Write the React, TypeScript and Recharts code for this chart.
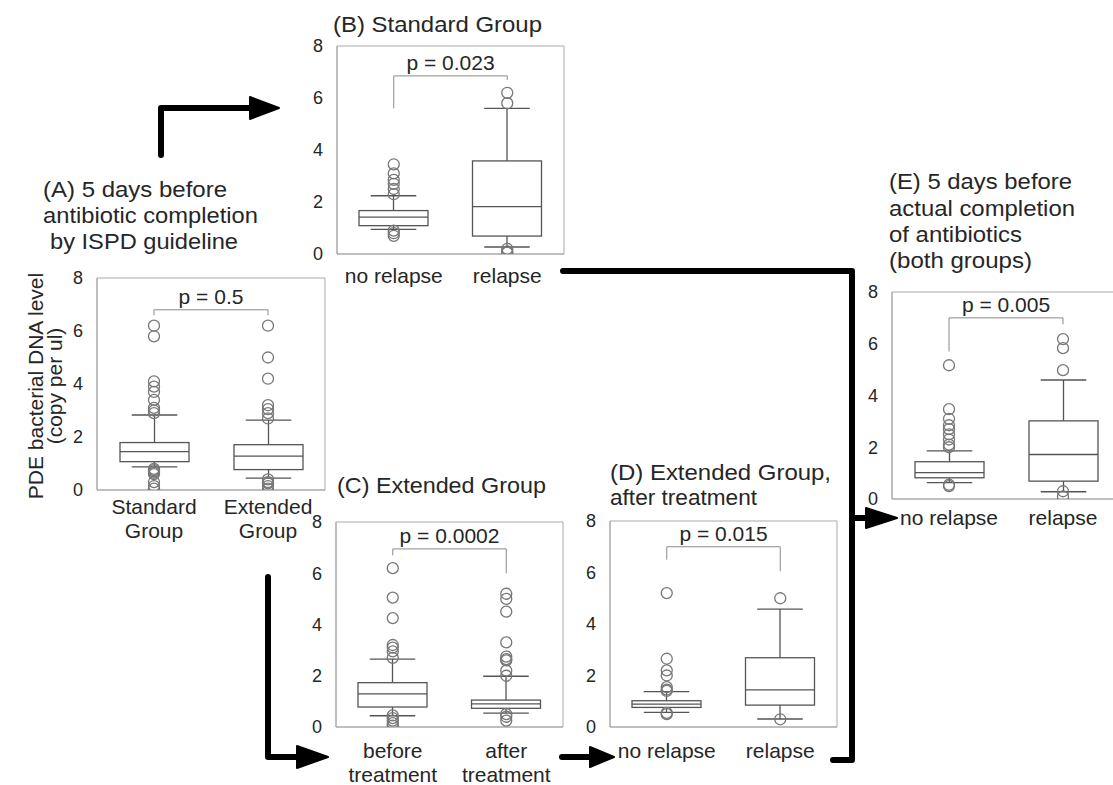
import { Bar, ComposedChart, ReferenceArea, ReferenceLine, Scatter, XAxis, YAxis } from "recharts";

const FONT = "'Liberation Sans', Arial, sans-serif";
const FRAME = "#a9a9a9";
const BOX = "#555555";
const DOT = "#777777";
const BRACKET = "#8a8a8a";
const TEXT = "#262626";

const Y_TICKS = [0, 2, 4, 6, 8];

// (A) 5 days before antibiotic completion by ISPD guideline
const catsA = ["Standard\nGroup", "Extended\nGroup"];
const lowA = [0.87, 0.45];
const q1A = [1.07, 0.77];
const medA = [1.45, 1.28];
const q3A = [1.79, 1.71];
const highA = [2.83, 2.64];
const outA = [
  [6.2, 5.8, 4.1, 3.9, 3.7, 3.4, 3.1, 3.0, 2.9, 0.8, 0.75, 0.7, 0.65, 0.6, 0.3, 0.15, 0.05],
  [6.2, 5.0, 4.2, 3.2, 3.05, 2.9, 2.7, 0.4, 0.3, 0.25, 0.15, 0.05],
];
const bracketA = [6.8, 6.6, 6.6];
const pA = "p = 0.5";

// (B) Standard Group
const catsB = ["no relapse", "relapse"];
const lowB = [0.95, 0.27];
const q1B = [1.09, 0.69];
const medB = [1.42, 1.82];
const q3B = [1.67, 3.58];
const highB = [2.24, 5.6];
const outB = [
  [3.45, 3.1, 2.85, 2.7, 2.5, 2.3, 0.9, 0.8, 0.7],
  [6.2, 5.8, 0.2, 0.1, 0.05],
];
const bracketB = [6.85, 5.6, 6.7];
const pB = "p = 0.023";

// (C) Extended Group
const catsC = ["before\ntreatment", "after\ntreatment"];
const lowC = [0.44, 0.54];
const q1C = [0.78, 0.73];
const medC = [1.29, 0.9];
const q3C = [1.73, 1.05];
const highC = [2.65, 1.98];
const outC = [
  [6.2, 5.05, 4.25, 3.2, 3.1, 2.95, 2.7, 0.45, 0.35, 0.25, 0.15, 0.05],
  [5.2, 5.0, 4.5, 3.3, 2.75, 2.65, 2.6, 2.2, 2.0, 0.5, 0.4, 0.25],
];
const bracketC = [6.95, 6.7, 6.0];
const pC = "p = 0.0002";

// (D) Extended Group, after treatment
const catsD = ["no relapse", "relapse"];
const lowD = [0.57, 0.31];
const q1D = [0.76, 0.85];
const medD = [0.89, 1.44];
const q3D = [1.02, 2.69];
const highD = [1.37, 4.58];
const outD = [
  [5.2, 2.65, 2.2, 2.0, 1.55, 1.45, 1.4, 0.55, 0.5],
  [5.0, 0.3],
];
const bracketD = [7.0, 6.5, 6.05];
const pD = "p = 0.015";

// (E) 5 days before actual completion of antibiotics (both groups)
const catsE = ["no relapse", "relapse"];
const lowE = [0.63, 0.28];
const q1E = [0.82, 0.69];
const medE = [1.02, 1.72];
const q3E = [1.44, 3.02];
const highE = [1.86, 4.6];
const outE = [
  [5.17, 3.47, 3.1, 2.85, 2.7, 2.5, 2.3, 2.1, 2.0, 0.55, 0.5],
  [6.18, 5.83, 4.98, 0.3, 0.1],
];
const bracketE = [7.0, 5.7, 6.75];
const pE = "p = 0.005";

type Stats = {
  cats: string[];
  low: number[];
  q1: number[];
  med: number[];
  q3: number[];
  high: number[];
  outliers: number[][];
  bracket: number[];
  p: string;
};

function buildRows(s: Stats) {
  return s.cats.map((cat, i) => ({
    cat,
    box: [s.q1[i], s.q3[i]],
    low: s.low[i],
    q1: s.q1[i],
    med: s.med[i],
    q3: s.q3[i],
    high: s.high[i],
  }));
}

function buildOutliers(s: Stats) {
  return s.cats.flatMap((cat, i) => s.outliers[i].map((value) => ({ cat, value })));
}

// box, median and whiskers, scaled from the bar the library places for [q1, q3]
function BoxShape(props: any) {
  const { x, y, width, height, payload } = props;
  if (!payload) return null;
  const { q1, q3, med, low, high } = payload;
  const top = Math.min(y, y + height);
  const h = Math.abs(height);
  const k = h / (q3 - q1);
  const toY = (v: number) => top + (q3 - v) * k;
  const cx = x + width / 2;
  const cap = width * 0.66;
  return (
    <g stroke={BOX} strokeWidth={1.3} fill="none">
      <line x1={cx} x2={cx} y1={toY(q3)} y2={toY(high)} />
      <line x1={cx - cap / 2} x2={cx + cap / 2} y1={toY(high)} y2={toY(high)} />
      <line x1={cx} x2={cx} y1={toY(q1)} y2={toY(low)} />
      <line x1={cx - cap / 2} x2={cx + cap / 2} y1={toY(low)} y2={toY(low)} />
      <rect x={x} y={top} width={width} height={h} fill="#fff" />
      <line x1={x} x2={x + width} y1={toY(med)} y2={toY(med)} />
    </g>
  );
}

function OutlierDot(props: any) {
  const { cx, cy } = props;
  if (cx == null || cy == null) return null;
  return <circle cx={cx} cy={cy} r={5.5} fill="none" stroke={DOT} strokeWidth={1.3} />;
}

function CategoryTick(props: any) {
  const { x, y, payload, dy } = props;
  const lines = String(payload.value).split("\n");
  return (
    <text x={x} y={y + dy} textAnchor="middle" fontSize={21} fill={TEXT} fontFamily={FONT}>
      {lines.map((l, i) => (
        <tspan key={i} x={x} dy={i === 0 ? 0 : 24}>
          {l}
        </tspan>
      ))}
    </text>
  );
}

function BoxPanel({ s, left, top, w, h, labelDy }: { s: Stats; left: number; top: number; w: number; h: number; labelDy: number }) {
  const ML = 60;
  const MT = 12;
  const MR = 12;
  const MB = 70;
  const rows = buildRows(s);
  const dots = buildOutliers(s);
  const [bTop, bLeft, bRight] = s.bracket;
  return (
    <div style={{ position: "absolute", left: left - ML, top: top - MT }}>
      <ComposedChart width={w + ML + MR} height={h + MT + MB} data={rows} margin={{ top: MT, right: MR, left: 0, bottom: 0 }}>
        <XAxis
          dataKey="cat"
          type="category"
          allowDuplicatedCategory={false}
          height={MB}
          interval={0}
          axisLine={{ stroke: FRAME }}
          tickLine={false}
          tickSize={0}
          tickMargin={0}
          tick={<CategoryTick dy={labelDy} />}
        />
        <YAxis
          type="number"
          domain={[0, 8]}
          ticks={Y_TICKS}
          width={ML}
          allowDataOverflow
          axisLine={{ stroke: FRAME }}
          tickLine={false}
          tickSize={0}
          tickMargin={14}
          tick={{ fontSize: 18, fill: TEXT, fontFamily: FONT }}
        />
        <ReferenceArea y1={0} y2={8} fill="none" stroke={FRAME} ifOverflow="visible" />
        <ReferenceLine
          segment={[{ x: s.cats[0], y: bTop }, { x: s.cats[1], y: bTop }]}
          stroke={BRACKET}
          ifOverflow="visible"
          label={{ value: s.p, position: "top", offset: 6, fontSize: 21, fill: TEXT, fontFamily: FONT }}
        />
        <ReferenceLine segment={[{ x: s.cats[0], y: bTop }, { x: s.cats[0], y: bLeft }]} stroke={BRACKET} ifOverflow="visible" />
        <ReferenceLine segment={[{ x: s.cats[1], y: bTop }, { x: s.cats[1], y: bRight }]} stroke={BRACKET} ifOverflow="visible" />
        <Bar dataKey="box" barSize={69} shape={<BoxShape />} isAnimationActive={false} />
        <Scatter data={dots} dataKey="value" shape={<OutlierDot />} isAnimationActive={false} />
      </ComposedChart>
    </div>
  );
}

const panelA: Stats = { cats: catsA, low: lowA, q1: q1A, med: medA, q3: q3A, high: highA, outliers: outA, bracket: bracketA, p: pA };
const panelB: Stats = { cats: catsB, low: lowB, q1: q1B, med: medB, q3: q3B, high: highB, outliers: outB, bracket: bracketB, p: pB };
const panelC: Stats = { cats: catsC, low: lowC, q1: q1C, med: medC, q3: q3C, high: highC, outliers: outC, bracket: bracketC, p: pC };
const panelD: Stats = { cats: catsD, low: lowD, q1: q1D, med: medD, q3: q3D, high: highD, outliers: outD, bracket: bracketD, p: pD };
const panelE: Stats = { cats: catsE, low: lowE, q1: q1E, med: medE, q3: q3E, high: highE, outliers: outE, bracket: bracketE, p: pE };

function Title({ x, y, text, len }: { x: number; y: number; text: string; len: number }) {
  return (
    <text x={x} y={y} fontSize={22} fill={TEXT} fontFamily={FONT} textLength={len} lengthAdjust="spacingAndGlyphs">
      {text}
    </text>
  );
}

export default function App() {
  return (
    <div
      style={{
        position: "absolute",
        left: 0,
        top: 0,
        width: 1113,
        height: 785,
        overflow: "hidden",
        background: "#fff",
        fontFamily: FONT,
      }}
    >
      <BoxPanel s={panelA} left={97} top={278} w={228} h={212} labelDy={24} />
      <BoxPanel s={panelB} left={337} top={46} w={227} h={208} labelDy={29} />
      <BoxPanel s={panelC} left={336} top={522} w={227} h={205} labelDy={31} />
      <BoxPanel s={panelD} left={610} top={521} w={227} h={206} labelDy={31} />
      <BoxPanel s={panelE} left={892} top={292} w={228} h={207} labelDy={26} />

      <svg width={1113} height={785} style={{ position: "absolute", left: 0, top: 0, pointerEvents: "none" }}>
        <Title x={43} y={197} text="(A) 5 days before" len={184} />
        <Title x={43} y={223} text="antibiotic completion" len={215} />
        <Title x={50} y={249} text="by ISPD guideline" len={188} />
        <Title x={333} y={32} text="(B) Standard Group" len={209} />
        <Title x={337} y={493} text="(C) Extended Group" len={209} />
        <Title x={610} y={480} text="(D) Extended Group," len={221} />
        <Title x={610} y={505} text="after treatment" len={147} />
        <Title x={889} y={189} text="(E) 5 days before" len={183} />
        <Title x={889} y={216} text="actual completion" len={186} />
        <Title x={889} y={242} text="of antibiotics" len={133} />
        <Title x={889} y={268} text="(both groups)" len={143} />

        <text transform="translate(43,386) rotate(-90)" textAnchor="middle" fontSize={21} fill={TEXT} fontFamily={FONT}>
          PDE bacterial DNA level
        </text>
        <text transform="translate(62,386) rotate(-90)" textAnchor="middle" fontSize={21} fill={TEXT} fontFamily={FONT}>
          (copy per ul)
        </text>

        <g stroke="#000" strokeWidth={6} strokeLinecap="round" strokeLinejoin="round" fill="none">
          <polyline points="161,155 161,108 254,108" />
          <polyline points="268,577 268,757 300,757" />
          <polyline points="562,757 594,757" />
          <polyline points="563,271 852,271 852,760 833,760" />
          <polyline points="852,518 870,518" />
        </g>
        <g fill="#000" stroke="#000" strokeWidth={2} strokeLinejoin="round">
          <polygon points="250,97 279,108 250,119" />
          <polygon points="297,746 328,757 297,768" />
          <polygon points="590,747 614,757 590,767" />
          <polygon points="866,508 897,518 866,528" />
        </g>
      </svg>
    </div>
  );
}
